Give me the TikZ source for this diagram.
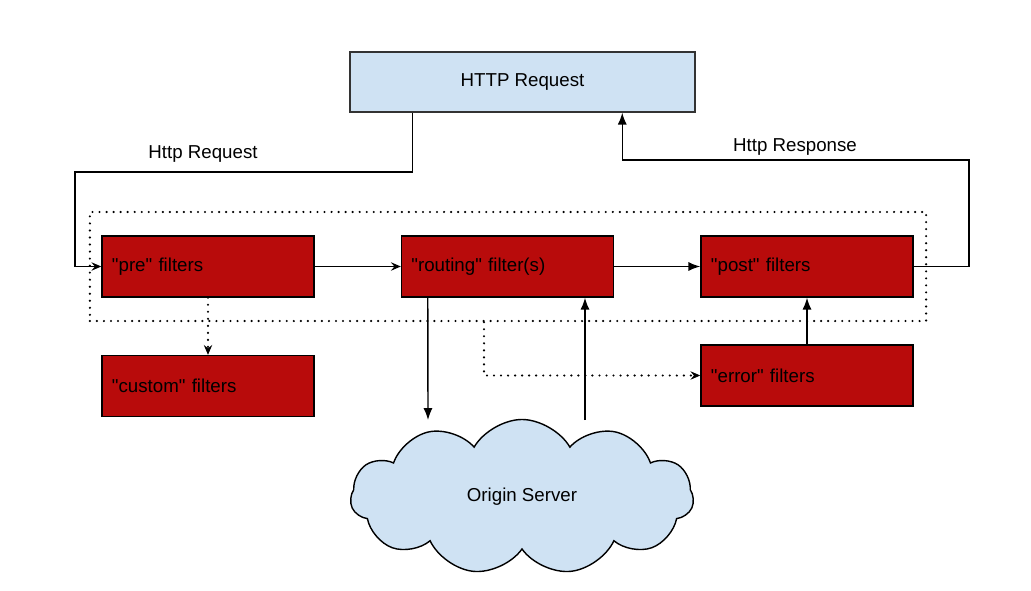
\documentclass[tikz,border=0pt]{standalone}
\usepackage{fontspec}
\setmainfont{Liberation Sans}
\usetikzlibrary{arrows.meta}
\usetikzlibrary{calc}
\usetikzlibrary{positioning}
\usetikzlibrary{shapes.symbols}
\definecolor{filterred}{HTML}{B80B0B}
\definecolor{reqblue}{HTML}{CFE2F3}
\newcommand{\qq}[1]{\textquotedbl#1\textquotedbl}

\begin{document}
\begin{tikzpicture}[
            x=0.025cm, y=-0.025cm,
            font=\fontsize{13.3}{16}\selectfont,
            filter/.style={
                draw=black, line width=1pt, fill=filterred,
                minimum height=1.525cm, text width=4.8cm,
                inner xsep=0.25cm, align=left,
            },
            request/.style={
                draw=black!80, line width=1pt, fill=reqblue,
                minimum width=8.625cm, minimum height=1.5cm,
            },
            server/.style={
                cloud, cloud puffs=11, cloud puff arc=120, aspect=2.2,
                draw=black, line width=1pt, fill=reqblue,
                minimum width=8.575cm, minimum height=3.875cm,
            },
            group/.style={
                draw=black, line width=1.7pt, line cap=round,
                dash pattern=on 0pt off 5pt,
                minimum width=20.9cm, minimum height=2.725cm,
            },
            flow/.style={-{Latex[length=8.5pt, width=6.5pt]}, line width=1pt},
            openflow/.style={-{Stealth[length=7pt, width=6pt, inset=2.5pt]}, line width=1pt},
            dotflow/.style={
                -{Stealth[length=7pt, width=6pt, inset=2.5pt, line width=0.6pt]},
                line width=1.7pt, line cap=round, dash pattern=on 0pt off 5pt,
            },
        ]
            \useasboundingbox (0,0) rectangle (1031,591);

            % --- request box and filter chain ---
            \node[request] (req) at (522.5,82) {HTTP Request};
            \node[group] (chain) at (508,266.5) {};
            \node[filter] (pre) at (208,266.5) {\qq{pre} filters};
            \node[filter] (routing) at (507.5,266.5) {\qq{routing} filter(s)};
            \node[filter] (post) at (807,266.5) {\qq{post} filters};

            % --- side filters and server ---
            \node[filter] (custom) at (208,386) {\qq{custom} filters};
            \node[filter] (error) at (807,375.5) {\qq{error} filters};
            \node[server] (origin) at (522,497) {Origin Server};

            % --- request in, response out ---
            \coordinate (reqout) at ($(req.south west) + (63,0)$);
            \coordinate (respin) at ($(req.south west) + (273,0)$);
            \draw[openflow] (reqout) |- (75,172) |- (pre.west);
            \node (lblReq) at (203,154) {Http Request};
            \draw[flow] (post.east) -| (969,160) -| (respin);
            \node (lblResp) at (795,147) {Http Response};

            % --- main chain ---
            \draw[openflow] (pre) -- (routing);
            \draw[flow] (routing) -- (post);
            \draw[dotflow] (pre.south) -- (custom.north);

            % --- to and from the origin server ---
            \coordinate (srvin) at (428,420);
            \coordinate (srvout) at (585,420);
            \draw[flow] ($(routing.south west) + (27,0)$) -- (srvin);
            \draw[flow] (srvout) -- (srvout |- routing.south);

            % --- error path ---
            \draw[flow] (error) -- (post);
            \coordinate (errfork) at ($(chain.south) + (-24,0)$);
            \draw[dotflow] (errfork) |- (error.west);
        \end{tikzpicture}
\end{document}
